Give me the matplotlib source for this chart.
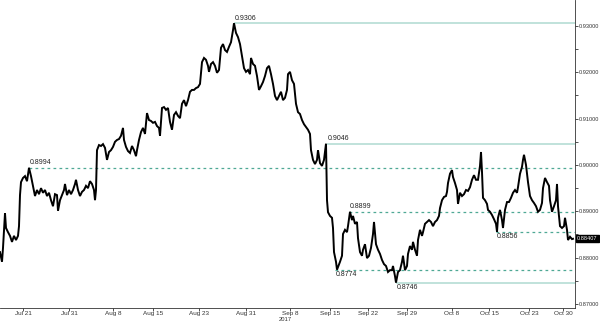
import numpy as np
from matplotlib import pyplot as plt

# time axis in ~3 hour bars from the start of the window, price of each bar
bars = [0, 2, 3, 5, 6, 8, 10, 12, 14, 16, 18, 19, 20, 21, 23, 25, 27, 29, 31, 33,
        35, 37, 39, 41, 43, 45, 47, 49, 51, 53, 55, 57, 58, 60, 62, 64, 65, 67, 69, 71,
        73, 75, 76, 78, 80, 82, 84, 86, 88, 90, 92, 94, 95, 96,
        97, 99, 101, 103, 105, 107, 109, 111, 113, 115, 117, 119, 121, 123, 124, 126, 128, 130, 132, 134,
        136, 137, 139, 141, 143, 145, 147, 149, 151, 153, 155, 157, 159, 160, 162, 164, 166, 168, 170, 172,
        174, 176, 178, 180, 182, 184, 186, 188, 190,
        192, 194, 196, 198, 200, 202, 204, 206, 208, 209, 211, 213, 215, 217, 219, 221, 223, 225, 227, 229,
        231, 233, 234, 236, 238, 240, 242, 244, 246, 248, 250, 251, 253, 255, 257, 259, 261, 263, 265, 267,
        269, 271, 273, 275, 277, 279, 281, 283, 285, 287, 288, 290, 292, 294, 296, 298, 300,
        302, 304, 306, 308, 310, 311, 313, 315, 317, 318, 320, 322, 324, 326, 327, 328, 330, 332, 333, 334,
        336, 337, 340, 342, 343, 345, 347, 348, 350, 352, 353, 355, 357, 358, 360, 362, 363, 365, 367, 369,
        371, 373, 374, 376, 378, 380,
        382, 384, 386, 388, 390, 392, 393, 395, 396, 398, 400, 402, 403, 405, 407, 408, 410, 412, 413, 415,
        417, 418, 420, 422, 423, 425, 427, 429, 431, 433, 435, 437, 439, 440, 442, 444, 446, 447, 448, 450,
        452, 453, 455, 457, 458, 460, 462, 464, 466, 468, 470,
        472, 474, 476, 478, 480, 481, 482, 483, 485, 487, 488, 490, 492, 494, 496, 497, 498, 500, 502, 503,
        505, 507, 509, 511, 513, 515, 517, 518, 520, 522, 523, 524, 526, 528, 530, 532, 534, 536, 538, 540,
        542, 543, 545, 547, 549, 550, 552, 554, 556, 557, 558, 560, 562, 564, 565, 567, 568, 570, 572, 573]

price = [0.8812, 0.8791, 0.8821, 0.8896, 0.8864, 0.8855, 0.8847, 0.8834, 0.8847, 0.8838,
         0.8847, 0.8868, 0.8935, 0.8963, 0.8972, 0.8976, 0.8965, 0.8994, 0.8976, 0.8955,
         0.8933, 0.8946, 0.8937, 0.8950, 0.8940, 0.8946, 0.8933, 0.8940, 0.8924, 0.8911,
         0.8937, 0.8935, 0.8901, 0.8924, 0.8935, 0.8946, 0.8959, 0.8935, 0.8946, 0.8937,
         0.8946, 0.8959, 0.8968, 0.8946, 0.8933, 0.8942, 0.8946, 0.8955, 0.8950, 0.8965,
         0.8959, 0.8946, 0.8924, 0.8946,
         0.9032, 0.9043, 0.9041, 0.9045, 0.9037, 0.9011, 0.9028, 0.9032, 0.9039, 0.9050,
         0.9054, 0.9056, 0.9063, 0.9080, 0.9054, 0.9039, 0.9030, 0.9026, 0.9041, 0.9032,
         0.9019, 0.9032, 0.9054, 0.9071, 0.9080, 0.9067, 0.9112, 0.9097, 0.9095, 0.9091,
         0.9093, 0.9084, 0.9080, 0.9063, 0.9123, 0.9125, 0.9119, 0.9123, 0.9093, 0.9076,
         0.9108, 0.9114, 0.9106, 0.9101, 0.9132, 0.9140, 0.9127, 0.9140, 0.9158,
         0.9162, 0.9162, 0.9166, 0.9168, 0.9175, 0.9222, 0.9231, 0.9227, 0.9214, 0.9201,
         0.9218, 0.9222, 0.9214, 0.9199, 0.9205, 0.9253, 0.9261, 0.9248, 0.9244, 0.9255,
         0.9265, 0.9291, 0.9306, 0.9285, 0.9276, 0.9261, 0.9235, 0.9209, 0.9201, 0.9205,
         0.9196, 0.9231, 0.9218, 0.9214, 0.9192, 0.9162, 0.9170, 0.9179, 0.9192, 0.9209,
         0.9214, 0.9196, 0.9175, 0.9149, 0.9140, 0.9149, 0.9158, 0.9140, 0.9145, 0.9162,
         0.9196, 0.9201, 0.9183, 0.9175, 0.9132, 0.9114, 0.9110,
         0.9097, 0.9088, 0.9082, 0.9076, 0.9067, 0.9032, 0.9011, 0.9002, 0.9011, 0.9032,
         0.9004, 0.8998, 0.9011, 0.9046, 0.8924, 0.8898, 0.8890, 0.8886, 0.8864, 0.8812,
         0.8791, 0.8774, 0.8791, 0.8804, 0.8851, 0.8860, 0.8855, 0.8868, 0.8899, 0.8881,
         0.8890, 0.8873, 0.8877, 0.8842, 0.8812, 0.8804, 0.8817, 0.8829, 0.8799, 0.8804,
         0.8821, 0.8851, 0.8877, 0.8829, 0.8817, 0.8808,
         0.8795, 0.8786, 0.8782, 0.8769, 0.8773, 0.8773, 0.8782, 0.8760, 0.8746, 0.8769,
         0.8773, 0.8791, 0.8804, 0.8773, 0.8782, 0.8808, 0.8825, 0.8817, 0.8834, 0.8817,
         0.8804, 0.8838, 0.8860, 0.8847, 0.8855, 0.8873, 0.8877, 0.8881, 0.8877, 0.8868,
         0.8877, 0.8881, 0.8890, 0.8907, 0.8924, 0.8931, 0.8933, 0.8942, 0.8961, 0.8981,
         0.8989, 0.8974, 0.8961, 0.8946, 0.8916, 0.8940, 0.8933, 0.8937, 0.8946, 0.8944,
         0.8952,
         0.8968, 0.8978, 0.8968, 0.8968, 0.8998, 0.9028, 0.8985, 0.8929, 0.8924, 0.8916,
         0.8903, 0.8899, 0.8892, 0.8883, 0.8873, 0.8856, 0.8886, 0.8903, 0.8881, 0.8864,
         0.8903, 0.8920, 0.8920, 0.8929, 0.8940, 0.8946, 0.8940, 0.8952, 0.8981, 0.8996,
         0.9011, 0.9022, 0.9000, 0.8963, 0.8933, 0.8924, 0.8918, 0.8911, 0.8899, 0.8903,
         0.8918, 0.8950, 0.8972, 0.8963, 0.8955, 0.8924, 0.8899, 0.8911, 0.8924, 0.8959,
         0.8911, 0.8868, 0.8864, 0.8868, 0.8886, 0.8860, 0.8838, 0.8845, 0.8840, 0.88407]

# support / resistance levels marked on the chart
level_values = [0.9306, 0.9046, 0.8994, 0.8899, 0.8856, 0.8774, 0.8746]
level_start = [234, 327, 29, 349, 496, 335, 396]
level_dashed = [False, False, True, True, True, True, False]
level_above = [True, True, True, True, False, False, False]

tick_pos = [23, 69, 113, 153, 199, 246, 290, 330, 368, 407, 452, 489, 529, 563]
tick_labels = ['Jul 21', 'Jul 31', 'Aug 8', 'Aug 15', 'Aug 23', 'Aug 31', 'Sep 8',
               'Sep 15', 'Sep 22', 'Sep 29', 'Oct 8', 'Oct 15', 'Oct 23', 'Oct 30']
year_label = '2017'
last_price = 0.88407

plt.rcParams['font.family'] = ['Liberation Sans', 'DejaVu Sans']

fig = plt.figure(figsize=(6, 3.23), dpi=100)
ax = fig.add_axes([0, 15 / 323, 575 / 600, 308 / 323])

x_end = 575
for v, s, dashed, above in zip(level_values, level_start, level_dashed, level_above):
    if dashed:
        ax.hlines(v, s, x_end, color='#4fa895', lw=0.9, linestyles=(0, (2.2, 2.6)), zorder=1)
    else:
        ax.hlines(v, s, x_end, color='#b5ddd4', lw=1.2, zorder=1)
    off = 1.0 if above else -1.2
    ax.annotate('%.4f' % v, (s, v), xytext=(0.5, off), textcoords='offset points',
                fontsize=5, va='bottom' if above else 'top', ha='left', color='#222222')

ax.plot(bars, price, color='black', lw=1.4, solid_joinstyle='miter', zorder=3)

ax.set_xlim(0, x_end)
ax.set_ylim(0.86913, 0.93561)

ax.yaxis.tick_right()
ax.set_yticks([0.87, 0.88, 0.89, 0.90, 0.91, 0.92, 0.93])
ax.set_yticks([0.875, 0.885, 0.895, 0.905, 0.915, 0.925], minor=True)
ax.yaxis.set_major_formatter(plt.FormatStrFormatter('%.5f'))
ax.tick_params(axis='y', which='major', labelsize=4.1, length=2.5, width=0.6, pad=0.5, colors='#333333')
ax.tick_params(axis='y', which='minor', length=2, width=0.6, colors='#333333')

ax.set_xticks(tick_pos)
ax.set_xticklabels(tick_labels)
ax.tick_params(axis='x', labelsize=4.6, length=2, width=0.6, pad=0.3, colors='#333333')
ax.text(285, -9.2 / 308, year_label, transform=ax.get_xaxis_transform(), fontsize=4.2,
        ha='center', va='top', color='#333333')

for side in ['top', 'left']:
    ax.spines[side].set_visible(False)
ax.spines['right'].set_linewidth(0.6)
ax.spines['bottom'].set_linewidth(0.6)
ax.spines['right'].set_color('#333333')
ax.spines['bottom'].set_color('#333333')

ax.annotate('%.5f' % last_price, (1.0, last_price), xycoords=('axes fraction', 'data'),
            xytext=(1.5, 0), textcoords='offset points', fontsize=4.1, color='white',
            va='center', ha='left',
            bbox=dict(boxstyle='square,pad=0.2', fc='black', ec='black'), annotation_clip=False)

fig.savefig('out.png', dpi=100)
